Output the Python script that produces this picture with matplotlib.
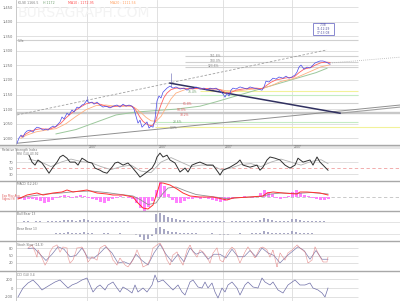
import matplotlib
matplotlib.use("Agg")
import matplotlib.pyplot as plt
from matplotlib.lines import Line2D
from matplotlib.patches import Rectangle

# ---------------- data ----------------
price_ticks = [1000, 1050, 1100, 1150, 1200, 1250, 1300, 1350, 1400, 1450]
date_x = [71, 141, 207, 276]
date_labels = ["2007", "2007", "2007", "2007"]

price_x = [1, 3, 5, 7, 9, 11, 14, 17, 19, 21, 24, 27, 30, 32, 34, 37, 39, 41, 44, 46,
           48, 51, 53, 56, 58, 61, 63, 66, 68, 71, 73, 76, 78, 81, 84, 87, 90, 94, 97, 101,
           104, 107, 110, 113, 116, 118, 120, 122, 124, 126, 128, 131, 133, 135, 137, 139, 141, 143, 145, 147,
           149, 151, 154, 157, 160, 164, 168, 171, 174, 177, 180, 184, 188, 191, 194, 197, 200, 204, 207, 209,
           211, 213, 215, 217, 220, 224, 228, 231, 234, 238, 242, 246, 248, 250, 253, 257, 260, 263, 267, 270,
           273, 276, 279, 281, 283, 285, 288, 291, 294, 297, 299, 301, 304, 307, 310, 312, 314]
price_y = [983, 1001, 1011, 1004, 1018, 1025, 1028, 1021, 1032, 1038, 1035, 1028, 1032, 1028, 1035, 1042, 1038, 1045, 1056, 1073,
           1066, 1086, 1080, 1097, 1090, 1107, 1104, 1114, 1117, 1131, 1121, 1124, 1117, 1124, 1114, 1107, 1110, 1104, 1110, 1114,
           1107, 1117, 1110, 1114, 1110, 1100, 1076, 1052, 1062, 1038, 1045, 1056, 1035, 1042, 1038, 1066, 1128, 1145, 1138, 1158,
           1165, 1172, 1179, 1172, 1176, 1169, 1172, 1165, 1172, 1169, 1176, 1169, 1172, 1165, 1172, 1169, 1172, 1162, 1152, 1141,
           1155, 1145, 1165, 1172, 1169, 1176, 1172, 1169, 1176, 1172, 1169, 1165, 1176, 1196, 1193, 1206, 1203, 1210, 1206, 1213,
           1206, 1210, 1217, 1227, 1244, 1251, 1237, 1244, 1241, 1251, 1258, 1261, 1265, 1265, 1261, 1258, 1254]

ma_short_x = [5, 10, 15, 20, 25, 30, 35, 40, 45, 50, 55, 60, 65, 70, 75, 80, 85, 90, 95, 100,
              105, 110, 115, 118, 121, 124, 127, 130, 133, 136, 139, 142, 145, 148, 151, 155, 160, 170, 180, 190,
              200, 205, 210, 215, 220, 230, 240, 246, 250, 255, 260, 270, 278, 283, 288, 295, 300, 305, 310, 314]
ma_short_y = [1005, 1015, 1025, 1030, 1033, 1031, 1033, 1040, 1052, 1070, 1085, 1097, 1108, 1118, 1122, 1120, 1116, 1110, 1107, 1110,
              1111, 1112, 1111, 1105, 1090, 1072, 1058, 1050, 1045, 1043, 1055, 1085, 1115, 1140, 1155, 1167, 1172, 1171, 1171, 1170,
              1169, 1165, 1155, 1157, 1165, 1171, 1172, 1170, 1180, 1192, 1200, 1207, 1210, 1225, 1237, 1243, 1252, 1259, 1261, 1260]

ma_mid_x = [5, 10, 20, 30, 40, 50, 60, 70, 80, 90, 100, 110, 116, 120, 125, 130, 135, 140, 145, 150,
            155, 160, 170, 180, 200, 210, 220, 235, 246, 255, 265, 278, 285, 295, 305, 314]
ma_mid_y = [1000, 1010, 1022, 1028, 1033, 1050, 1075, 1098, 1112, 1114, 1110, 1110, 1110, 1102, 1088, 1072, 1060, 1058, 1075, 1105,
            1135, 1155, 1168, 1170, 1170, 1163, 1162, 1168, 1170, 1180, 1195, 1205, 1215, 1230, 1245, 1252]

ma_long_x = [40, 60, 80, 100, 120, 140, 160, 184, 200, 220, 240, 260, 280, 300, 311]
ma_long_y = [1015, 1030, 1055, 1080, 1090, 1095, 1100, 1110, 1125, 1145, 1165, 1185, 1205, 1225, 1240]

# trend lines: (x0, x1), (y0, y1)
channel_top_x, channel_top_y = [1, 311], [1080, 1303]
channel_ext_x, channel_ext_y = [314, 384], [1258, 1278]
support_x, support_y = [1, 384], [983, 1114]
down_x, down_y = [154, 324], [1189, 1086]
down_ext_x, down_ext_y = [324, 384], [1086, 1107]

# horizontal fibonacci levels
fib_levels = [1086, 1090, 1038, 1056, 1121, 1148, 1162, 1261, 1244, 1282, 1337]
fib_start = [0, 0, 139, 139, 134, 184, 184, 169, 169, 169, 0]
fib_end = [384, 384, 384, 342, 342, 342, 342, 342, 342, 342, 342]
fib_colors = ["#c8c8c8", "#c8c8c8", "#f2f29a", "#c4ecc4", "#d0d0d0", "#c4ecc4", "#f2f29a",
              "#d0d0d0", "#d0d0d0", "#d0d0d0", "#d0d0d0"]
fib_text = ["76.4%", "61.8%", "50.0%", "38.2%", "23.6%", "0.0%", "161.8%", "100.0%", "123.6%"]
fib_text_x = [172, 167, 161, 164, 157, 154, 194, 194, 192]
fib_text_y = [1159, 1117, 1097, 1080, 1056, 1035, 1282, 1265, 1248]
fib_text_c = ["#70a070", "#e06060", "#e06060", "#e06060", "#70a070", "#808080", "#808080", "#808080", "#808080"]

spike_x = [155, 71]
spike_lo = [1176, 1128]
spike_hi = [1224, 1145]

# RSI
rsi_x = [13, 16, 19, 22, 26, 29, 33, 37, 41, 44, 47, 51, 54, 59, 62, 66, 69, 72, 76, 79,
         84, 87, 91, 96, 99, 102, 107, 112, 116, 121, 124, 127, 131, 136, 139, 141, 144, 147, 151, 154,
         159, 164, 169, 172, 176, 181, 184, 191, 197, 202, 204, 207, 214, 221, 224, 227, 234, 241, 244, 247,
         251, 254, 259, 264, 269, 274, 279, 282, 287, 294, 297, 301, 304, 307, 312]
rsi_y = [93, 70, 60, 77, 67, 53, 33, 53, 70, 87, 93, 83, 70, 70, 60, 83, 77, 70, 67, 50,
         43, 37, 33, 53, 67, 70, 60, 67, 53, 33, 20, 27, 37, 50, 67, 87, 100, 87, 93, 77,
         67, 37, 50, 37, 60, 67, 70, 60, 60, 37, 27, 43, 53, 67, 77, 60, 53, 60, 43, 53,
         77, 87, 83, 77, 60, 50, 60, 83, 70, 77, 60, 87, 70, 60, 43]
rsi_sig_x = [13, 25, 35, 45, 55, 65, 75, 85, 95, 105, 115, 125, 135, 145, 155, 165, 175, 185, 195, 205,
             215, 225, 235, 245, 255, 265, 275, 285, 295, 305, 312]
rsi_sig_y = [80, 70, 55, 70, 80, 72, 68, 55, 45, 55, 60, 40, 35, 70, 85, 70, 55, 60, 60, 45,
             50, 62, 65, 55, 70, 80, 70, 60, 72, 78, 65]

# MACD
macd_x = [2, 11, 21, 27, 37, 46, 51, 57, 64, 71, 81, 91, 97, 107, 117, 121, 127, 132, 137, 141,
          144, 147, 154, 161, 167, 174, 184, 197, 211, 217, 234, 247, 251, 257, 267, 281, 284, 291, 304, 312]
macd_y = [-4, 4, 8, 4, 8, 10, 14, 10, 12, 14, 8, 6, 4, 4, 0, -10, -22, -24, -16, 8,
          28, 28, 24, 16, 8, 2, 0, 0, -6, -2, 0, 2, 8, 10, 8, 6, 10, 10, 8, 4]
sig_x = [2, 15, 30, 45, 60, 75, 90, 105, 117, 124, 132, 140, 146, 152, 160, 170, 180, 195, 210, 225,
         245, 255, 265, 280, 295, 312]
sig_y = [-2, 2, 6, 8, 11, 12, 9, 5, 2, -5, -15, -12, 5, 18, 20, 12, 5, 1, -3, -1,
         1, 6, 8, 7, 9, 6]
hist_x = list(range(0, 313, 4))
hist_y = [-2, -4, -6, -4, -3, -6, -8, -12, -10, -6,
          -2, 2, 4, 3, -2, 2, 4, 3, -1, -3,
          -6, -10, -12, -8, -3, -1, 2, 1, -2, -4,
          -12, -22, -28, -20, -8, 14, 30, 22, 6, -6,
          -12, -12, -8, -4, -3, -2, -3, -2, -4, -6,
          -8, -10, -8, -6, -3, -2, -1, 2, 1, -2,
          2, 8, 14, 10, 6, -2, -4, -2, 2, 10,
          14, 8, 4, 2, -2, -4, -6, -6, -4]

# Bull / Bear power
bull_y = [0.5, 0.5, 0.8, 1, 0.5, 0.8, 1, 0.5, 0.8, 1.0,
          1.2, 1.5, 2, 2.5, 2, 1.5, 2.5, 3, 2, 1.5,
          1, 0.8, 1, 1.5, 1, 1.2, 1.5, 1, 0.8, 0.5,
          0.3, 0.2, 0.2, 0.3, 0.5, 8, 9, 7, 5, 4,
          3, 2.5, 2, 1.5, 1.2, 1, 1, 0.8, 0.8, 1,
          1, 0.8, 0.6, 0.5, 0.8, 1, 1.2, 1, 0.8, 1,
          1.5, 2, 4, 3.5, 2, 1.5, 1.2, 1, 1.5, 3.5,
          3, 2, 1.5, 1.2, 1, 0.8, 0.8, 0.6, 0.5]
bear_y = [0.3, 0.3, 0.5, 0.5, 0.3, 0.5, 0.5, 0.3, 0.5, 0.5,
          0.8, 1, 1.5, 2, 1.5, 1, 1.5, 2, 1.5, 1,
          0.5, 0.5, 0.8, 1, 0.5, 0.5, 1, 0.5, 0.3, 0.2,
          -1, -3, -6, -5, -2, 6, 7, 5, 3.5, 2.5,
          2, 1.5, 1.2, 1, 0.8, 0.6, 0.5, 0.5, 0.5, 0.6,
          0.5, -0.5, -0.8, -0.5, 0.3, 0.5, 0.8, 0.5, 0.5, 0.6,
          1, 1.5, 3, 2.5, 1.5, 1, 0.8, 0.8, 1, 3,
          2.5, 1.5, 1, 0.8, 0.6, 0.5, 0.5, 0.4, 0.3]

# Stochastic
stk_x = [12, 16, 19, 21, 22, 26, 29, 32, 34, 37, 41, 44, 47, 51, 52, 54, 57, 61, 66, 69,
         72, 76, 81, 84, 89, 94, 97, 101, 104, 109, 112, 117, 121, 124, 127, 131, 134, 137, 141, 144,
         147, 151, 154, 157, 161, 164, 167, 171, 174, 177, 181, 184, 187, 191, 194, 197, 201, 204, 207, 211,
         216, 219, 222, 224, 229, 232, 236, 239, 244, 247, 251, 254, 257, 261, 264, 269, 272, 276, 281, 284,
         289, 292, 296, 299, 304, 307, 311, 312]
stk_y = [80, 92, 64, 44, 72, 40, 12, 32, 64, 84, 92, 64, 84, 80, 44, 20, 32, 80, 84, 64,
         24, 44, 32, 80, 92, 64, 32, 12, 40, 12, 4, 32, 72, 44, 4, 12, 32, 80, 92, 100,
         80, 32, 12, 52, 64, 32, 12, 72, 92, 64, 44, 72, 64, 44, 20, 60, 80, 32, 24, 60,
         84, 72, 40, 20, 64, 84, 60, 40, 80, 84, 72, 44, 72, 4, 60, 32, 60, 72, 92, 80,
         64, 20, 32, 84, 44, 24, 24, 44]
std_x = [12, 18, 24, 30, 36, 42, 48, 54, 60, 66, 72, 78, 84, 90, 96, 102, 108, 114, 120, 126,
         132, 138, 144, 150, 156, 162, 168, 174, 180, 186, 192, 198, 204, 210, 216, 222, 228, 234, 240, 246,
         252, 258, 264, 270, 276, 282, 288, 294, 300, 306, 312]
std_y = [78, 80, 55, 30, 55, 85, 75, 45, 50, 80, 40, 40, 60, 85, 60, 20, 25, 15, 55, 30,
         12, 60, 95, 55, 25, 55, 25, 80, 55, 65, 35, 55, 55, 40, 75, 45, 45, 70, 45, 80,
         60, 50, 20, 45, 65, 85, 70, 35, 70, 35, 35]

# CCI
cci_x = [2, 7, 12, 17, 22, 26, 29, 34, 39, 44, 47, 52, 56, 61, 66, 71, 74, 77, 81, 84,
         89, 92, 97, 101, 104, 107, 112, 116, 119, 122, 127, 131, 136, 139, 142, 147, 152, 157, 162, 166,
         169, 174, 177, 182, 186, 189, 192, 196, 199, 202, 206, 209, 212, 216, 221, 224, 229, 232, 237, 242,
         246, 249, 254, 257, 262, 267, 272, 279, 284, 289, 294, 297, 302, 306, 309, 312]
cci_y = [-200, 0, 111, 178, 67, -44, 0, 67, 133, 178, 111, 0, 67, 111, 178, 222, 67, -89, 22, 67,
         -44, 67, 133, 0, -89, 22, -44, -111, 67, -89, 0, -89, 67, 289, 133, 178, 67, -44, 67, -89,
         -156, 133, 178, 22, 0, 133, 0, 111, -89, -222, 0, -89, 67, 133, 0, -156, 67, 133, 22, 0,
         222, 133, 67, 133, -44, -111, 67, 178, 67, 67, 111, 0, -44, -111, -200, 0]

# ---------------- figure ----------------
W, H = 400, 301
fig = plt.figure(figsize=(W / 100, H / 100), dpi=100)
fig.patch.set_facecolor("white")
GRID = "#dcdcdc"
TXT = "#707070"
FS = 2.6


def panel(top, bottom, ylim, yticks=(), ylabels=()):
    ax = fig.add_axes([16 / W, 1 - bottom / H, (W - 16) / W, (bottom - top) / H])
    ax.set_xlim(0, 384)
    ax.set_ylim(*ylim)
    for s in ("top", "right", "bottom"):
        ax.spines[s].set_visible(False)
    ax.spines["left"].set_color("#c0c0c0")
    ax.spines["left"].set_linewidth(0.6)
    ax.set_xticks([])
    ax.set_yticks(list(yticks))
    ax.set_yticklabels(list(ylabels), fontsize=FS, color=TXT)
    ax.tick_params(axis="y", length=0, pad=2)
    for x in date_x:
        ax.axvline(x, color=GRID, lw=0.6, zorder=0)
    for t in yticks:
        ax.hlines(t, 0, 342, color=GRID, lw=0.6, zorder=0)
    return ax


def note(x, y, s, color=TXT, size=FS, **kw):
    fig.text(x / W, 1 - y / H, s, fontsize=size, color=color, va="center", **kw)


# ---- price panel ----
ax = panel(0, 145, (977, 1474), price_ticks, [f"{v:,}" for v in price_ticks])
for lvl, x0, x1, c in zip(fib_levels, fib_start, fib_end, fib_colors):
    ax.hlines(lvl, x0, x1, color=c, lw=1.0 if c == "#c8c8c8" else 0.8, zorder=1)
ax.plot(channel_top_x, channel_top_y, color="#a0a0a0", lw=0.6, ls=(0, (3, 2)), zorder=2)
ax.plot(channel_ext_x, channel_ext_y, color="#b0b0b0", lw=0.6, ls=(0, (1, 1.5)), zorder=2)
ax.plot(support_x, support_y, color="#909090", lw=0.7, zorder=2)
ax.plot(ma_long_x, ma_long_y, color="#9cc89c", lw=0.7, zorder=3)
ax.plot(down_x, down_y, color="#303060", lw=1.1, zorder=4)
ax.plot(down_ext_x, down_ext_y, color="#a0a0a0", lw=0.8, zorder=2)
ax.vlines(spike_x, spike_lo, spike_hi, color="#8080c0", lw=0.5, zorder=3)
ax.plot(ma_mid_x, ma_mid_y, color="#ffb080", lw=0.6, zorder=4)
ax.plot(ma_short_x, ma_short_y, color="#ff6060", lw=0.6, zorder=5)
ax.plot(price_x, price_y, color="#4848e8", lw=0.5, zorder=6)
for s, x, y, c in zip(fib_text, fib_text_x, fib_text_y, fib_text_c):
    ax.text(x, y, s, fontsize=2.2, color=c, va="center")
ax.text(2, 1333, "1.3x", fontsize=2.2, color=TXT, va="center")

# watermark and header
note(18, 13, "BURSAGRAPH.COM", color="#f3f3f3", size=10)
note(18, 3, "KLSE 1166.5", color="#808080", size=2.3)
note(43, 3, "H 1172", color="#70a070", size=2.3)
note(68, 3, "MA10 : 1172.95", color="#ff5050", size=2.3)
note(110, 3, "MA20 : 1111.56", color="#ffa060", size=2.3)

# info box
fig.patches.append(Rectangle((313 / W, 1 - 35 / H), 21 / W, 12 / H, transform=fig.transFigure,
                             fill=False, ec="#8888d0", lw=0.7))
note(323.5, 25.5, "7:38", color="#5050a0", size=2.2, ha="center")
note(323.5, 29, "11:12:29", color="#5050a0", size=2.2, ha="center")
note(323.5, 32.5, "17:13:08", color="#5050a0", size=2.2, ha="center")

# date strip
fig.patches.append(Rectangle((0, 1 - 149 / H), 1, 4 / H, transform=fig.transFigure,
                             color="#e6e6e6", lw=0))
for x, s in zip(date_x, date_labels):
    note(x + 16 + 2, 147, s, size=2.2)

# ---- RSI ----
ax = panel(145, 181, (7, 127), [70, 30], ["70", "30"])
ax.axhline(50, color="#f0a0a0", lw=0.6, ls=(0, (4, 3)))
ax.set_yticks([70, 50, 30])
ax.set_yticklabels(["70", "50", "30"], fontsize=FS, color=TXT)
ax.plot(rsi_sig_x, rsi_sig_y, color="#b0b0b0", lw=0.6)
ax.plot(rsi_x, rsi_y, color="#303030", lw=0.7)
note(2, 150.5, "Relative Strength Index", size=2.2)
note(17, 154, "RSI (14) 43.92", size=2.2)

# ---- MACD ----
ax = panel(181, 211, (-28, 32))
ax.axhline(0, color="#c0c0c0", lw=0.6, ls=(0, (4, 3)))
ax.bar(hist_x, hist_y, width=3, color="#ff80ff", lw=0, zorder=2)
ax.plot(sig_x, sig_y, color="#909090", lw=0.6, zorder=3)
ax.plot(macd_x, macd_y, color="#ff3030", lw=0.7, zorder=4)
note(17, 184, "MACD (12,26)", size=2.2)
note(2, 196, "Exp Mov Avg", color="#e06060", size=2.0)
note(2, 199, "Signal (9)", color="#e06060", size=2.0)

# ---- Bull / Bear ----
ax = panel(211, 226, (-4, 11))
ax.bar(hist_x, bull_y, width=1.6, color="#a8a8c4", lw=0)
ax.axhline(0, color="#d0d0d0", lw=0.4)
note(17, 214, "Bull Bear 13", size=2.2)
ax = panel(226, 241, (-7, 8))
ax.bar(hist_x, bear_y, width=1.6, color="#a8a8c4", lw=0)
ax.axhline(0, color="#d0d0d0", lw=0.4)
note(17, 229, "Bear Bear 13", size=2.2)

# ---- Stochastic ----
ax = panel(241, 271, (-12, 108), [80, 50, 20], ["80", "50", "20"])
ax.plot(std_x, std_y, color="#8080b0", lw=0.5)
ax.plot(stk_x, stk_y, color="#e07070", lw=0.5, ls=(0, (1, 0.6)))
note(17, 245, "Stoch Slow (14,3)", size=2.2)

# ---- CCI ----
ax = panel(271, 301, (-289, 378), [200, 0, -200], ["200", "0", "-200"])
ax.plot(cci_x, cci_y, color="#7070a8", lw=0.5)
note(17, 275, "CCI (14) 3.4", size=2.2)

# panel dividers
for y in (145, 181, 211, 241, 271):
    fig.add_artist(Line2D([0, 1], [1 - y / H, 1 - y / H], transform=fig.transFigure,
                          color="#a8a8a8", lw=1.0))

fig.savefig("out.png", dpi=100)
